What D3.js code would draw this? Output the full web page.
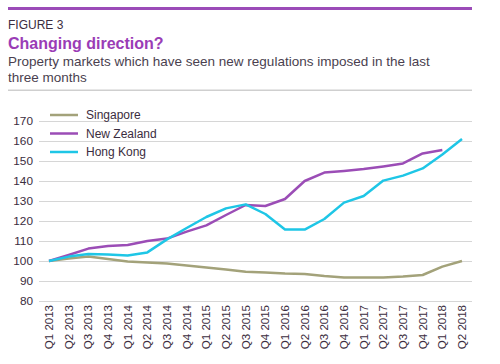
<!DOCTYPE html>
<html>
<head>
  <meta charset="utf-8">
  <script src="https://d3js.org/d3.v7.min.js"></script>
  <style>
    body { margin: 0; background: #fff; font-family: "Liberation Sans", Arial, sans-serif; }
    .grid line { stroke: #d6d6d6; }
    .tick text { fill: #3b2d40; font-size: 11.8px; }
  </style>
</head>
<body>
<script>
  "use strict";

  // quarters on the x axis
  var quarters = ["Q1 2013", "Q2 2013", "Q3 2013", "Q4 2013",
                  "Q1 2014", "Q2 2014", "Q3 2014", "Q4 2014",
                  "Q1 2015", "Q2 2015", "Q3 2015", "Q4 2015",
                  "Q1 2016", "Q2 2016", "Q3 2016", "Q4 2016",
                  "Q1 2017", "Q2 2017", "Q3 2017", "Q4 2017",
                  "Q1 2018", "Q2 2018"];

  var singapore = [100, 101.3, 102.2, 101, 99.8, 99.2, 98.7, 97.8, 96.7, 95.8, 94.6,
                   94.2, 93.7, 93.5, 92.5, 91.8, 91.7, 91.7, 92.2, 93, 97.2, 100];
  var newZealand = [100, 103, 106.2, 107.5, 108, 110, 111.2, 114.7, 117.8, 123, 128,
                    127.5, 131, 140, 144.2, 145, 146, 147.3, 148.8, 153.8, 155.5, null];
  var hongKong = [100, 102.2, 103.5, 103.3, 102.8, 104.3, 110.8, 116.5, 122, 126.3, 128.3,
                  123.5, 115.7, 115.7, 121, 129.2, 132.5, 140.2, 142.7, 146.3, 153.2, 161];

  var yTicks = [80, 90, 100, 110, 120, 130, 140, 150, 160, 170];

  var series = [
    {name: "Singapore", values: singapore, color: "#a3a27a"},
    {name: "New Zealand", values: newZealand, color: "#9b4db6"},
    {name: "Hong Kong", values: hongKong, color: "#1ec6e6"}
  ];

  var width = 500, height = 364;
  var svg = d3.select("body").append("svg")
      .attr("width", width)
      .attr("height", height);

  // header
  svg.append("rect").attr("x", 8).attr("y", 7).attr("width", 464).attr("height", 3)
      .attr("fill", "#9b4bb8");
  svg.append("text").attr("x", 8).attr("y", 29).text("FIGURE 3")
      .attr("font-size", "12px").attr("fill", "#3b2d40");
  svg.append("text").attr("x", 8).attr("y", 49).text("Changing direction?")
      .attr("font-size", "16px").attr("font-weight", "bold").attr("fill", "#9a3cb6");
  svg.append("text").attr("x", 8).attr("y", 66)
      .text("Property markets which have seen new regulations imposed in the last")
      .attr("font-size", "13.5px").attr("fill", "#4a3f4f");
  svg.append("text").attr("x", 8).attr("y", 82).text("three months")
      .attr("font-size", "13.5px").attr("fill", "#4a3f4f");
  svg.append("rect").attr("x", 8).attr("y", 89.5).attr("width", 464).attr("height", 1.5)
      .attr("fill", "#cfcfcf");

  // scales
  var x = d3.scalePoint().domain(quarters).range([49, 462]);
  var y = d3.scaleLinear().domain([80, 170]).range([301, 121]);

  // y grid + labels
  svg.append("g")
      .attr("class", "grid")
      .attr("transform", "translate(472,0)")
      .call(d3.axisLeft(y).tickValues(yTicks).tickSize(433).tickPadding(6))
      .call(function(g) { g.select(".domain").remove(); });

  // x labels
  svg.append("g").selectAll("text")
      .data(quarters)
    .enter().append("text")
      .attr("transform", function(d) { return "translate(" + x(d) + ",305) rotate(-90)"; })
      .attr("text-anchor", "end")
      .attr("dy", "0.35em")
      .attr("font-size", "11.5px")
      .attr("fill", "#3b2d40")
      .text(function(d) { return d; });

  // lines
  var line = d3.line()
      .defined(function(d) { return d != null; })
      .x(function(d, i) { return x(quarters[i]); })
      .y(function(d) { return y(d); });

  svg.append("g").selectAll("path")
      .data(series)
    .enter().append("path")
      .attr("fill", "none")
      .attr("stroke", function(d) { return d.color; })
      .attr("stroke-width", 2.5)
      .attr("stroke-linejoin", "round")
      .attr("d", function(d) { return line(d.values); });

  // legend
  var legend = svg.append("g").selectAll("g")
      .data(series)
    .enter().append("g")
      .attr("transform", function(d, i) { return "translate(50," + (115 + i * 18.5) + ")"; });
  legend.append("line")
      .attr("x1", 0).attr("x2", 28)
      .attr("stroke", function(d) { return d.color; })
      .attr("stroke-width", 2.5);
  legend.append("text")
      .attr("x", 36).attr("dy", "0.35em")
      .attr("font-size", "12px")
      .attr("fill", "#3b2d40")
      .text(function(d) { return d.name; });
</script>
</body>
</html>
